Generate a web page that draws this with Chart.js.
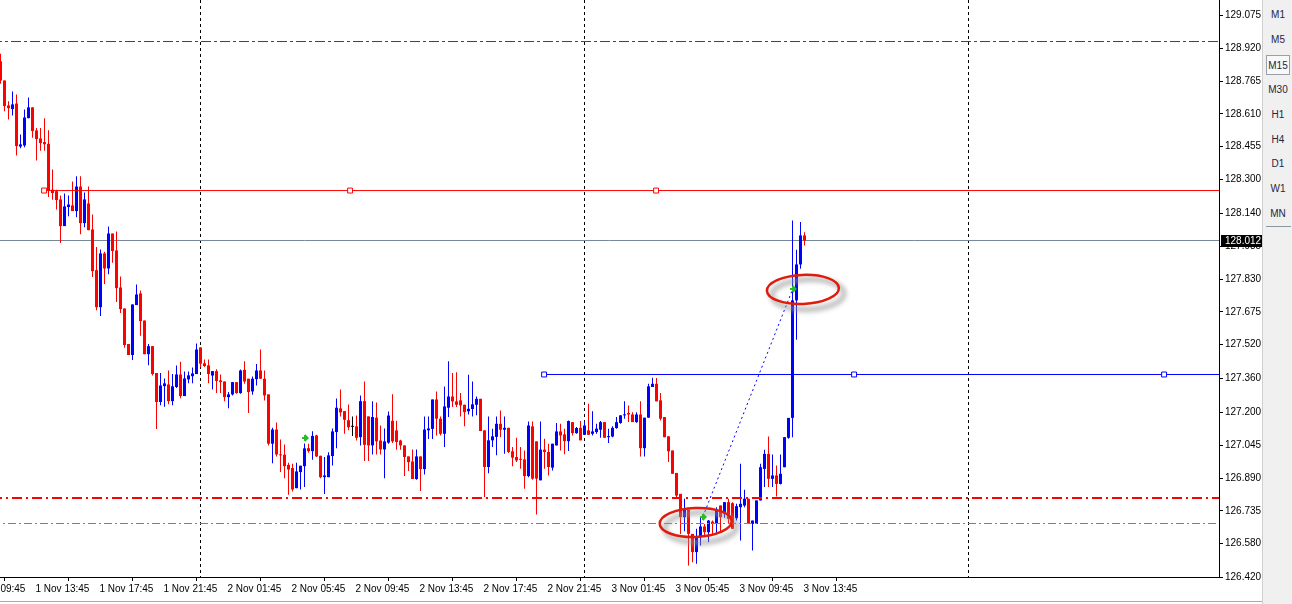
<!DOCTYPE html>
<html><head><meta charset="utf-8">
<script src="https://cdn.jsdelivr.net/npm/chart.js@4.4.0/dist/chart.umd.min.js"></script>
<style>
html,body{margin:0;padding:0;background:#fff;overflow:hidden;}
#wrap{position:relative;width:1292px;height:604px;}
#c{position:absolute;left:0;top:0;}
#tf{position:absolute;left:1262px;top:0;width:30px;height:604px;background:#f0f0f0;border-left:1px solid #d0d0d0;box-sizing:border-box;font:10px "Liberation Sans",Arial,sans-serif;color:#262640;}
.tb{position:absolute;left:3px;width:24px;height:20px;line-height:20px;text-align:center;box-sizing:border-box;}
.sel{border:1px solid #9aa0a8;background:#f8f8f8;}
#tfline{position:absolute;left:3px;width:25px;top:226px;height:1px;background:#8a96a4;}
#bline{position:absolute;left:0;top:601px;width:1262px;height:1px;background:#a8a8a8;}
</style></head><body>
<div id="wrap"><canvas id="c" width="1262" height="604"></canvas><div id="bline"></div><div id="tf"></div></div>
<script>
// ---- data: M15 candles (index 0 = 1 Nov 11:30) ----
const opens=[128.859,128.768,128.650,128.633,128.659,128.456,128.461,128.590,128.641,128.532,
128.494,128.477,128.469,128.252,128.245,128.206,128.080,128.170,128.178,128.151,
128.267,128.094,128.187,128.064,127.872,127.697,127.951,127.880,128.045,127.965,
127.790,127.691,127.523,127.471,127.707,127.762,127.634,127.475,127.513,127.386,
127.249,127.324,127.332,127.253,127.320,127.379,127.277,127.356,127.371,127.381,
127.507,127.432,127.422,127.374,127.395,127.351,127.346,127.272,127.285,127.343,
127.291,127.401,127.359,127.299,127.357,127.398,127.359,127.285,127.052,127.119,
127.001,127.000,126.952,126.937,126.842,126.918,126.946,127.031,127.017,127.091,
126.995,126.894,126.894,126.994,127.107,127.219,127.206,127.163,127.132,127.134,
127.083,127.253,127.181,127.044,127.175,127.067,127.025,127.057,127.160,127.115,
127.067,127.044,126.992,126.968,126.885,126.992,126.932,127.115,127.122,127.261,
127.170,127.099,127.222,127.275,127.252,127.257,127.236,127.205,127.216,127.236,
127.264,127.115,126.942,127.068,127.084,127.146,127.118,127.127,127.016,126.989,
126.981,126.978,126.899,127.134,127.063,126.879,127.024,127.013,126.939,127.044,
127.110,127.096,127.064,127.154,127.102,127.127,127.094,127.115,127.099,127.107,
127.118,127.154,127.083,127.086,127.126,127.150,127.186,127.197,127.190,127.154,
127.190,127.031,127.175,127.320,127.335,127.257,127.178,127.087,127.020,126.914,
126.815,126.705,126.740,126.626,126.540,126.610,126.661,126.634,126.684,126.673,
126.760,126.721,126.776,126.771,126.700,126.752,126.760,126.792,126.673,126.673,
126.784,126.933,127.004,126.886,126.902,126.862,126.941,127.080,127.174,127.729,
127.899,128.036];
const highs=[128.894,128.768,128.670,128.716,128.702,128.513,128.631,128.688,128.641,128.544,
128.544,128.589,128.533,128.348,128.252,128.225,128.234,128.225,128.291,128.315,
128.315,128.239,128.267,128.135,127.981,127.970,127.959,128.078,128.045,128.055,
127.842,127.691,127.523,127.710,127.804,127.776,127.634,127.523,127.513,127.386,
127.386,127.360,127.398,127.381,127.422,127.439,127.393,127.393,127.412,127.526,
127.507,127.450,127.450,127.395,127.404,127.379,127.346,127.296,127.343,127.343,
127.403,127.441,127.359,127.370,127.428,127.497,127.398,127.285,127.127,127.152,
127.072,127.048,126.962,126.957,126.962,126.948,127.053,127.052,127.111,127.094,
126.995,126.989,127.012,127.124,127.266,127.308,127.206,127.237,127.181,127.185,
127.280,127.346,127.181,127.253,127.247,127.138,127.124,127.204,127.286,127.160,
127.071,127.044,126.992,127.025,127.025,126.992,127.181,127.181,127.261,127.299,
127.181,127.322,127.441,127.386,127.390,127.291,127.236,127.378,127.346,127.275,
127.264,127.115,127.181,127.123,127.181,127.209,127.181,127.127,127.036,127.080,
127.036,127.020,127.157,127.157,127.063,127.157,127.076,127.052,127.052,127.150,
127.146,127.123,127.162,127.154,127.131,127.159,127.159,127.241,127.205,127.146,
127.159,127.154,127.123,127.134,127.178,127.186,127.253,127.233,127.201,127.201,
127.252,127.175,127.335,127.364,127.362,127.291,127.178,127.087,127.020,126.914,
126.815,126.792,126.740,126.626,126.650,126.705,126.673,126.692,126.689,126.752,
126.760,126.776,126.792,126.776,126.768,126.957,126.834,126.792,126.689,126.784,
126.957,127.023,127.086,127.001,126.949,127.001,127.083,127.174,128.107,127.968,
128.099,128.051];
const lows=[128.752,128.623,128.584,128.603,128.414,128.448,128.452,128.590,128.497,128.390,
128.436,128.436,128.217,128.204,128.159,128.000,128.080,128.126,128.151,128.122,
128.042,128.075,128.061,127.839,127.682,127.655,127.806,127.852,127.907,127.721,
127.669,127.505,127.471,127.447,127.707,127.562,127.475,127.423,127.374,127.121,
127.234,127.227,127.239,127.234,127.315,127.267,127.277,127.338,127.338,127.381,
127.414,127.414,127.338,127.308,127.291,127.291,127.252,127.220,127.280,127.288,
127.288,127.335,127.197,127.283,127.327,127.359,127.256,127.044,126.960,126.992,
126.918,126.889,126.811,126.826,126.842,126.836,126.847,127.009,126.976,126.989,
126.889,126.815,126.894,126.949,127.031,127.181,127.099,127.115,127.088,127.067,
127.044,126.970,126.970,127.001,127.001,127.001,126.889,127.052,127.055,127.023,
127.023,126.899,126.923,126.885,126.882,126.828,126.907,127.074,127.074,127.091,
127.091,127.036,127.178,127.225,127.225,127.181,127.135,127.190,127.181,127.186,
127.112,126.800,126.913,127.036,126.997,127.083,127.005,127.008,126.945,126.965,
126.934,126.839,126.894,126.882,126.717,126.879,126.934,126.902,126.926,127.044,
127.020,127.002,127.017,127.091,127.099,127.068,127.094,127.094,127.091,127.099,
127.080,127.080,127.055,127.083,127.123,127.146,127.170,127.154,127.154,127.151,
126.992,126.992,127.175,127.320,127.252,127.162,127.083,126.965,126.910,126.800,
126.626,126.639,126.477,126.492,126.485,126.571,126.610,126.587,126.626,126.626,
126.639,126.702,126.673,126.650,126.689,126.595,126.752,126.673,126.548,126.673,
126.784,126.847,126.847,126.847,126.803,126.859,126.941,127.075,127.083,127.543,
127.878,127.988];
const closes=[128.768,128.647,128.637,128.655,128.458,128.466,128.593,128.641,128.529,128.491,
128.472,128.467,128.247,128.236,128.203,128.080,128.173,128.182,128.151,128.267,
128.094,128.206,128.061,127.867,127.697,127.951,127.880,128.045,127.962,127.787,
127.688,127.518,127.471,127.710,127.757,127.631,127.475,127.513,127.381,127.249,
127.327,127.337,127.253,127.323,127.379,127.277,127.360,127.375,127.384,127.497,
127.430,127.419,127.381,127.395,127.348,127.343,127.272,127.285,127.343,127.291,
127.398,127.346,127.296,127.359,127.398,127.359,127.280,127.052,127.119,127.001,
126.997,126.946,126.930,126.836,126.921,126.948,127.030,127.017,127.089,126.992,
126.894,126.902,126.997,127.110,127.222,127.200,127.165,127.130,127.132,127.080,
127.253,127.047,127.044,127.178,127.063,127.025,127.063,127.185,127.063,127.060,
127.044,126.989,126.965,126.885,126.992,126.932,127.119,127.124,127.261,127.170,
127.099,127.228,127.275,127.252,127.236,127.233,127.201,127.217,127.238,127.264,
127.112,126.942,127.068,127.087,127.146,127.118,127.127,127.013,126.986,126.973,
126.976,126.899,127.138,126.887,126.887,127.024,127.013,126.942,127.052,127.110,
127.091,127.064,127.159,127.102,127.126,127.068,127.138,127.094,127.110,127.123,
127.154,127.080,127.088,127.127,127.154,127.186,127.190,127.190,127.154,127.190,
127.031,127.175,127.323,127.335,127.252,127.170,127.083,127.016,126.910,126.807,
126.705,126.740,126.626,126.540,126.610,126.661,126.634,126.689,126.673,126.736,
126.705,126.776,126.697,126.650,126.757,126.768,126.792,126.673,126.689,126.784,
126.941,127.004,126.886,126.902,126.862,126.910,127.083,127.174,127.729,127.899,
128.036,128.012];

// time-axis tick labels (bar index -> label)
const timeTickIdx=[-7,9,25,41,57,73,89,105,121,137,153,169,185,201];
const timeTickLabels=['1 Nov 09:45','1 Nov 13:45','1 Nov 17:45','1 Nov 21:45','2 Nov 01:45','2 Nov 05:45',
'2 Nov 09:45','2 Nov 13:45','2 Nov 17:45','2 Nov 21:45','3 Nov 01:45','3 Nov 05:45','3 Nov 09:45','3 Nov 13:45'];
const daySeparators=[50,146,242];
// price axis tick labels
const priceTicks=[129.075,128.920,128.765,128.610,128.455,128.300,128.140,127.985,127.830,127.675,
127.520,127.360,127.200,127.045,126.890,126.735,126.580,126.420];
// drawn objects
const upperDashLevel=128.952;
const redRayLevel=128.248, redRayAnchors=[10.9,87.4,163.9];
const blueRayLevel=127.379, blueRayAnchors=[135.9,213.4,290.9];
const lowerRedDashLevel=126.7955;
const greenDashLevel=126.675;
const trendFrom=[175.6,126.708], trendTo=[198.1,127.785];
const arrowsX=[76.1,175.6,198.1], arrowsY=[127.077,126.708,127.785];
const ellipsesX=[173.8,200.6], ellipsesY=[126.680,127.781];
const timeframes=['M1','M5','M15','M30','H1','H4','D1','W1','MN'];
const selectedTf='M15';

// ---- toolbar ----
const tf=document.getElementById('tf');
timeframes.forEach((t,k)=>{const d=document.createElement('div');d.className='tb'+(t===selectedTf?' sel':'');
 d.style.top=(5+24.9*k)+'px';d.textContent=t;tf.appendChild(d);});
const ln=document.createElement('div');ln.id='tfline';tf.appendChild(ln);

// ---- chart ----
const BULL='#0000ff',BEAR='#ff0000',DOJI='#000000';
const N=opens.length;
const wick=[],body=[],col=[];
for(let i=0;i<N;i++){
  wick.push({x:i,y:[lows[i],highs[i]]});
  body.push({x:i,y:[opens[i],closes[i]]});
  col.push(closes[i]>opens[i]?BULL:(closes[i]<opens[i]?BEAR:DOJI));
}
const XMIN=-0.125, XMAX=304.625;
const YMAX=129.1482, YMIN=126.4223;
const lastClose=closes[N-1];
function hline(level,color,dash,from,anchors,width){
  const pts=[], rad=[];
  const start=(from===undefined||from===null)?XMIN-2:from;
  pts.push({x:start,y:level}); rad.push(anchors?3.5:0);
  (anchors||[]).slice(1).forEach(a=>{pts.push({x:a,y:level});rad.push(3.5);});
  pts.push({x:XMAX+5,y:level}); rad.push(0);
  return {type:'line',data:pts,borderColor:color,borderWidth:width||1,borderDash:dash||[],pointRadius:rad,
    pointStyle:'rect',pointBackgroundColor:'#ffffff',pointBorderColor:color,pointBorderWidth:1,
    tension:0,fill:false};
}
const datasets=[
  {type:'line',data:[{x:trendFrom[0],y:trendFrom[1]},{x:trendTo[0],y:trendTo[1]}],borderColor:'#0000ff',borderWidth:1,borderDash:[2,3],pointRadius:0,fill:false},
  hline(redRayLevel,'#ff0000',[],redRayAnchors[0],redRayAnchors),
  hline(blueRayLevel,'#0000ff',[],blueRayAnchors[0],blueRayAnchors),
  hline(upperDashLevel,'#e00000',[10,3,3,3]),
  hline(lowerRedDashLevel,'#ff0000',[10,4,2,4],null,null,2),
  hline(greenDashLevel,'#4fa04f',[8,3,2,3]),
  {type:'bar',data:body,backgroundColor:col,barThickness:3,grouped:false,minBarLength:1,borderWidth:0,inflateAmount:0},
  {type:'bar',data:wick,backgroundColor:col,barThickness:1,grouped:false,minBarLength:1,borderWidth:0,inflateAmount:0},
  hline(lastClose,'#778899',[]),
];

const overlay={
  id:'overlay',
  beforeDatasetsDraw(chart){
    const {ctx,chartArea:a,scales:{x}}=chart;
    ctx.save();ctx.strokeStyle='#000';ctx.lineWidth=1;ctx.setLineDash([3,3]);
    daySeparators.forEach(d=>{const px=Math.floor(x.getPixelForValue(d))+0.5;
      ctx.beginPath();ctx.moveTo(px,a.top);ctx.lineTo(px,a.bottom);ctx.stroke();});
    ctx.restore();
  },
  afterDatasetsDraw(chart){
    const {ctx,chartArea:a,scales:{x,y}}=chart;
    ctx.save();
    ctx.beginPath();ctx.rect(a.left,a.top,a.right-a.left,a.bottom-a.top);ctx.clip();
    ellipsesX.forEach((ex,k)=>{
      const cx=x.getPixelForValue(ex), cy=y.getPixelForValue(ellipsesY[k]);
      ctx.save();
      ctx.filter='blur(2px)';
      ctx.strokeStyle='rgba(150,150,150,0.55)';ctx.lineWidth=6;
      ctx.beginPath();ctx.ellipse(cx+5,cy+5,36,15,-0.03,0,Math.PI*2);ctx.stroke();
      ctx.restore();
      ctx.strokeStyle='#e01b0b';ctx.lineWidth=2.5;
      ctx.beginPath();ctx.ellipse(cx,cy,36,14.5,-0.04,0,Math.PI*2);ctx.stroke();
    });
    ctx.fillStyle='#22c022';
    arrowsX.forEach((ax,k)=>{
      const px=Math.round(x.getPixelForValue(ax)), py=Math.round(y.getPixelForValue(arrowsY[k]));
      ctx.beginPath();
      ctx.moveTo(px-3,py-1);ctx.lineTo(px,py-1);ctx.lineTo(px,py-4);ctx.lineTo(px+4,py);
      ctx.lineTo(px,py+4);ctx.lineTo(px,py+1);ctx.lineTo(px-3,py+1);ctx.closePath();ctx.fill();
      ctx.fillRect(px-1,py-3,2,6);
    });
    ctx.restore();
  },
  afterDraw(chart){
    const {ctx,scales:{y}}=chart;
    const py=Math.floor(y.getPixelForValue(lastClose));
    ctx.save();
    ctx.fillStyle='#000';ctx.fillRect(y.left+2,py-5,y.right-y.left-2,12);
    ctx.fillStyle='#fff';ctx.font='10px "Liberation Sans", Arial, sans-serif';
    ctx.textBaseline='middle';ctx.textAlign='left';
    ctx.fillText(lastClose.toFixed(3),y.left+6,py+1);
    ctx.restore();
  }
};
function noPad(s){s.paddingLeft=0;s.paddingRight=0;s.paddingTop=0;s.paddingBottom=0;}

new Chart(document.getElementById('c'),{
  data:{datasets},
  options:{
    responsive:false,animation:false,devicePixelRatio:1,
    layout:{padding:0,autoPadding:false},
    plugins:{legend:{display:false},tooltip:{enabled:false}},
    events:[],
    scales:{
      x:{type:'linear',position:'bottom',min:XMIN,max:XMAX,offset:false,
        afterBuildTicks:s=>{s.ticks=timeTickIdx.map(v=>({value:v}));},
        afterFit:s=>{s.height=27;noPad(s);},
        ticks:{autoSkip:false,maxRotation:0,minRotation:0,align:'start',labelOffset:-1,padding:2,
          color:'#000',font:{family:'"Liberation Sans", Arial, sans-serif',size:10},
          callback:(v,i)=>timeTickLabels[i]},
        grid:{drawOnChartArea:false,drawTicks:true,tickLength:4,color:'#000'},
        border:{display:true,color:'#000',width:1}},
      y:{type:'linear',position:'right',min:YMIN,max:YMAX,
        afterBuildTicks:s=>{s.ticks=priceTicks.map(v=>({value:v}));},
        afterFit:s=>{s.width=43;noPad(s);},
        ticks:{autoSkip:false,padding:2,color:'#000',
          font:{family:'"Liberation Sans", Arial, sans-serif',size:10},
          callback:v=>Number(v).toFixed(3)},
        grid:{drawOnChartArea:false,drawTicks:true,tickLength:4,color:'#000'},
        border:{display:true,color:'#000',width:1}}
    }
  },
  plugins:[overlay]
});
</script>
</body></html>
